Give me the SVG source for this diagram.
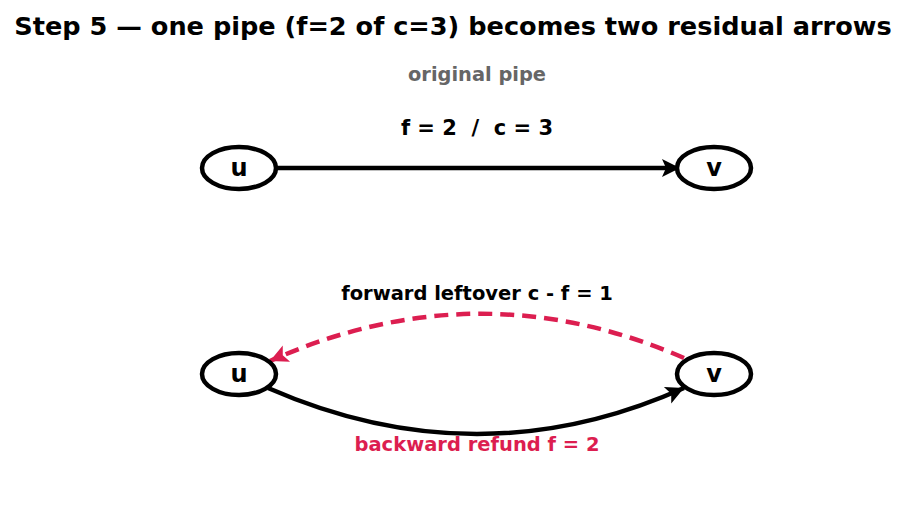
<svg xmlns="http://www.w3.org/2000/svg" width="906" height="512" viewBox="0 0 906 512">
<style>
text{font-family:"DejaVu Sans","Liberation Sans",sans-serif;font-weight:bold;text-anchor:middle;white-space:pre}
.node ellipse{fill:#fff;stroke:#000;stroke-width:4.5}
.node text{font-size:24px;fill:#000}
.lbl{font-size:19.5px;fill:#000}
</style>
<defs>
<marker id="ah" markerUnits="userSpaceOnUse" markerWidth="24" markerHeight="24" viewBox="0 0 24 24" refX="20" refY="12" orient="auto">
<path d="M2,3 L20,12 L2,21 L6,12 Z" fill="#000"/>
</marker>
<marker id="ahr" markerUnits="userSpaceOnUse" markerWidth="24" markerHeight="24" viewBox="0 0 24 24" refX="20" refY="12" orient="auto">
<path d="M2,3 L20,12 L2,21 L6,12 Z" fill="#dc1e50"/>
</marker>
</defs>
<rect width="906" height="512" fill="#fff"/>
<text x="453" y="35" style="font-size:25.6px">Step 5 — one pipe (f=2 of c=3) becomes two residual arrows</text>
<text x="477" y="81" style="font-size:19.4px;fill:#666">original pipe</text>
<text x="477" y="135" style="font-size:21px" xml:space="preserve">f = 2  /  c = 3</text>
<g id="connectors" fill="none">
<path d="M277,168 L680,168" stroke="#000" stroke-width="4.5" marker-end="url(#ah)"/>
<path d="M684,358 Q478,268 270,361" stroke="#dc1e50" stroke-width="4.5" stroke-dasharray="14,8" marker-end="url(#ahr)"/>
<path d="M268,388 Q478,480 684,388" stroke="#000" stroke-width="4.5" marker-end="url(#ah)"/>
</g>
<text class="lbl" x="477" y="300">forward leftover c - f = 1</text>
<text class="lbl" x="477" y="451" style="fill:#dc1e50">backward refund f = 2</text>
<g id="node-u1" class="node"><ellipse cx="239" cy="168" rx="37" ry="21"/><text x="239" y="176">u</text></g>
<g id="node-v1" class="node"><ellipse cx="714" cy="168" rx="37" ry="21"/><text x="714" y="176">v</text></g>
<g id="node-u2" class="node"><ellipse cx="239" cy="374" rx="37" ry="21"/><text x="239" y="382">u</text></g>
<g id="node-v2" class="node"><ellipse cx="714" cy="374" rx="37" ry="21"/><text x="714" y="382">v</text></g>
</svg>
